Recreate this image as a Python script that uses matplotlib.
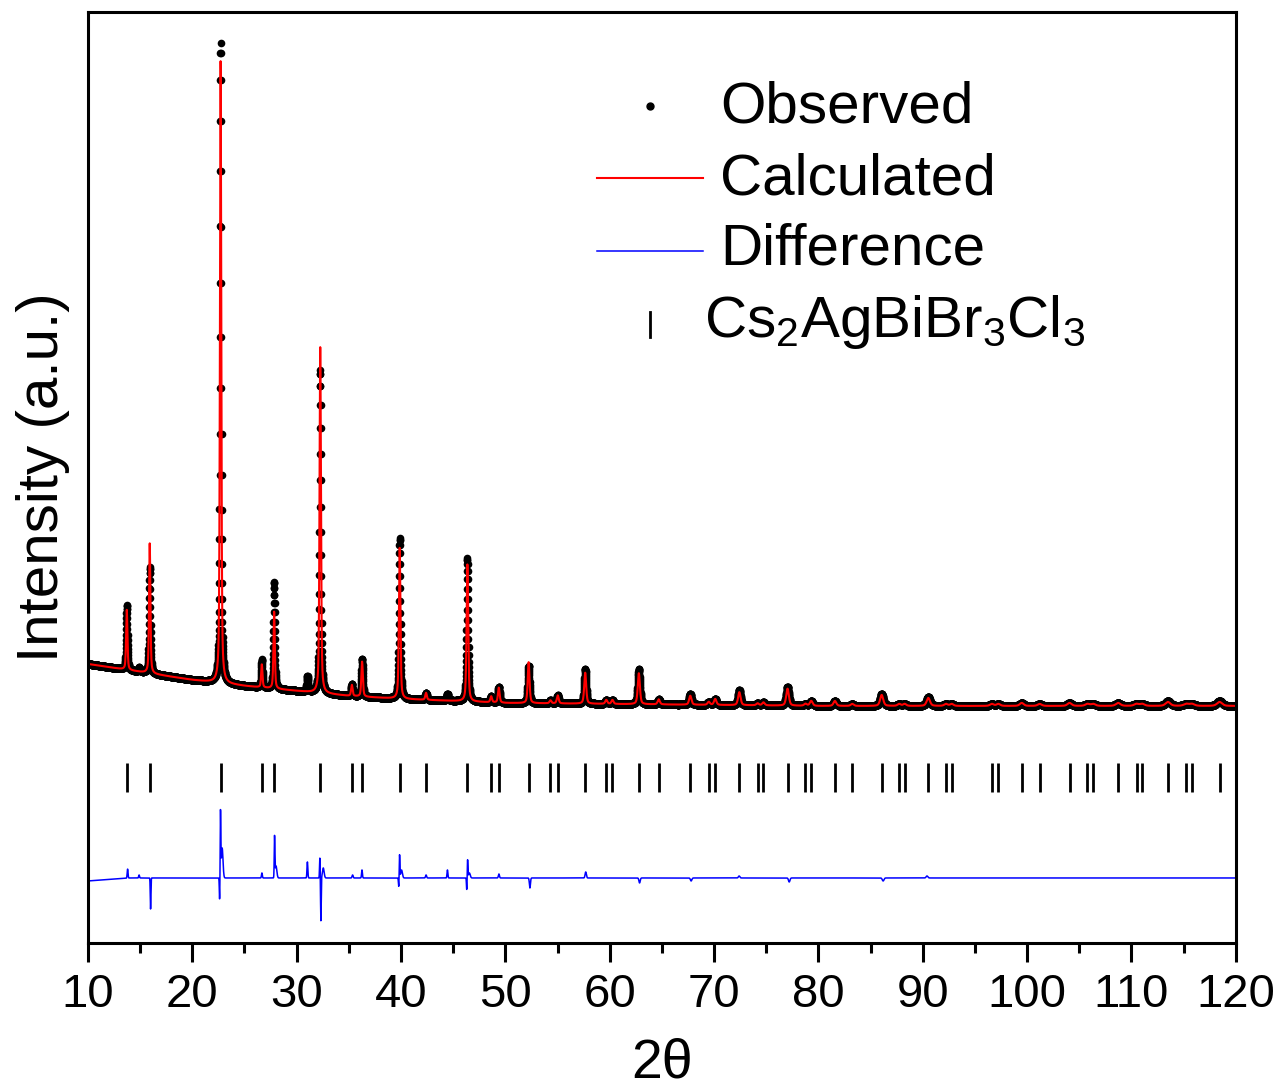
import numpy as np
import matplotlib
matplotlib.use("Agg")
import matplotlib.pyplot as plt

plt.rcParams['font.family'] = ['Liberation Sans', 'DejaVu Sans']
plt.rcParams['mathtext.fontset'] = 'custom'
plt.rcParams['mathtext.rm'] = 'Liberation Sans'
plt.rcParams['mathtext.it'] = 'Liberation Sans:italic'

# ---- data (intensity in arbitrary units) ----
# background of the pattern
bkg_x = [10, 15, 20, 25, 30, 35, 40, 45, 50, 60, 80, 100, 120]
bkg_y = [279, 271, 263, 257, 252, 247, 244, 242, 240, 239, 237, 237, 237]

# peaks: position (2theta), observed height, calculated height, fwhm
peak_pos = [13.72, 14.90, 15.92, 22.71, 26.66, 27.84, 31.03, 32.26, 35.29, 36.27,
            39.87, 42.40, 44.45, 46.36, 48.64, 49.37, 52.23, 54.32, 55.02, 57.65,
            59.67, 60.26, 62.79, 64.70, 67.72, 69.49, 70.11, 72.42, 74.17, 74.73,
            77.04, 78.76, 79.31, 81.58, 83.24, 86.06, 87.74, 88.26, 90.53, 92.22,
            92.77, 96.62, 97.24, 99.48, 101.20, 104.06, 105.78, 106.33, 108.72, 110.48,
            111.03, 113.49, 115.25, 115.80, 118.44]
obs_h = [65, 4, 106, 640, 28, 107, 15, 323, 12, 38,
         161, 7, 7, 143, 6, 16, 37, 3, 8, 35,
         4, 4, 35, 5, 11, 3, 6, 15, 2, 3,
         19, 2, 5, 5, 2, 12, 2, 2, 9, 2,
         2, 2, 2, 3, 2, 3, 2, 2, 3, 2,
         2, 5, 2, 2, 5]
calc_h = [60, 0, 130, 622, 23, 77, 0, 346, 11, 35,
          151, 7, 0, 137, 6, 15, 41, 3, 8, 31,
          4, 4, 31, 5, 9, 3, 6, 13, 2, 3,
          17, 2, 5, 5, 2, 11, 2, 2, 8, 2,
          2, 2, 2, 3, 2, 3, 2, 2, 3, 2,
          2, 4, 2, 2, 4]
fwhm = [0.15, 0.15, 0.15, 0.15, 0.15, 0.15, 0.16, 0.16, 0.17, 0.17,
        0.17, 0.18, 0.18, 0.18, 0.19, 0.19, 0.2, 0.21, 0.21, 0.22,
        0.23, 0.23, 0.24, 0.25, 0.26, 0.27, 0.27, 0.28, 0.29, 0.29,
        0.3, 0.31, 0.31, 0.32, 0.33, 0.35, 0.36, 0.36, 0.38, 0.39,
        0.39, 0.42, 0.42, 0.44, 0.45, 0.47, 0.48, 0.49, 0.51, 0.52,
        0.52, 0.54, 0.56, 0.56, 0.58]

# difference curve: baseline and misfit features
diff_base_x = [10, 14, 120]
diff_base_y = [62, 65, 65]
diff_pos = [13.80, 14.90, 16.00, 22.62, 22.70, 22.86, 26.67, 27.88, 28.02, 31.03,
            32.22, 32.32, 32.55, 35.36, 36.26, 39.78, 39.86, 40.05, 42.40, 44.45,
            46.30, 46.38, 46.55, 49.38, 52.35, 57.70, 62.86, 67.80, 72.40, 77.20,
            86.20, 90.40]
diff_amp = [9, 3, -31, -23, 65, 30, 5, 40, 12, 16,
            20, -43, 10, 3, 8, -9, 23, 8, 3, 8,
            -12, 18, 5, 4, -10, 6, -5, -3, 2, -4,
            -3, 2]
diff_w = [0.04, 0.04, 0.03, 0.03, 0.03, 0.08, 0.04, 0.03, 0.08, 0.04,
          0.03, 0.03, 0.08, 0.05, 0.04, 0.03, 0.03, 0.08, 0.05, 0.04,
          0.03, 0.03, 0.08, 0.05, 0.05, 0.06, 0.06, 0.07, 0.07, 0.07,
          0.08, 0.08]

# Bragg reflection positions
bragg = [13.72, 15.92, 22.71, 26.66, 27.84, 32.24, 35.29, 36.27, 39.87, 42.40,
         46.36, 48.64, 49.37, 52.23, 54.32, 55.02, 57.65, 59.67, 60.26, 62.79,
         64.70, 67.72, 69.49, 70.11, 72.42, 74.17, 74.73, 77.04, 78.76, 79.31,
         81.58, 83.24, 86.06, 87.74, 88.26, 90.53, 92.22, 92.77, 96.62, 97.24,
         99.48, 101.20, 104.06, 105.78, 106.33, 108.72, 110.48, 111.03, 113.49, 115.25,
         115.80, 118.44]


def pvoigt(x, x0, h, w, eta=0.5):
    d = (x - x0) / w
    return h * (eta / (1 + 4 * d**2) + (1 - eta) * np.exp(-4 * np.log(2) * d**2))


tt = np.arange(10, 120.0001, 0.01)
bkg = np.interp(tt, bkg_x, bkg_y)
y_obs = bkg.copy()
y_calc = bkg.copy()
for p, ho, hc, w in zip(peak_pos, obs_h, calc_h, fwhm):
    y_obs += pvoigt(tt, p, ho, w)
    y_calc += pvoigt(tt, p, hc, w)

y_diff = np.interp(tt, diff_base_x, diff_base_y)
for p, a, w in zip(diff_pos, diff_amp, diff_w):
    y_diff += a * np.exp(-0.5 * ((tt - p) / w) ** 2)

# ---- plot ----
fig = plt.figure(figsize=(12.84, 10.88), dpi=100)
ax = fig.add_axes([0.0685, 0.1333, 0.894, 0.8557])

ax.plot(tt, y_obs, 'o', color='black', markersize=5.5, markeredgewidth=0)
ax.plot(tt, y_calc, '-', color='red', linewidth=1.5)
ax.plot(tt, y_diff, '-', color='blue', linewidth=1.1)
ax.vlines(bragg, 151, 180, color='black', linewidth=2)

ax.set_xlim(10, 120)
ax.set_ylim(0, 931)
ax.set_xticks(np.arange(10, 121, 10))
ax.set_xticks(np.arange(15, 120, 10), minor=True)
ax.set_yticks([])
for s in ax.spines.values():
    s.set_linewidth(2.2)
ax.tick_params(axis='x', which='major', length=13.5, width=2.2, labelsize=34, pad=8)
ax.tick_params(axis='x', which='minor', length=7, width=2.2)

ax.set_xlabel('2θ', fontsize=40, labelpad=15)
ax.set_ylabel('Intensity (a.u.)', fontsize=42, labelpad=13)

# legend drawn by hand
def fx(px):
    return (px - 88) / 1148


def fy(py):
    return (943 - py) / 931


tr = ax.transAxes
ax.plot([fx(650)], [fy(106)], 'o', color='black', markersize=5, transform=tr, clip_on=False)
ax.plot([fx(597), fx(703)], [fy(178)] * 2, color='red', linewidth=1.5, transform=tr)
ax.plot([fx(597), fx(703)], [fy(251)] * 2, color='blue', linewidth=1.1, transform=tr)
ax.plot([fx(650), fx(650)], [fy(312), fy(337)], color='black', linewidth=2, transform=tr)
ax.text(fx(720), fy(123), 'Observed', fontsize=42, transform=tr, va='baseline')
ax.text(fx(720), fy(195), 'Calculated', fontsize=42, transform=tr, va='baseline')
ax.text(fx(720), fy(265), 'Difference', fontsize=42, transform=tr, va='baseline')
ax.text(fx(704), fy(337), r'Cs$_2$AgBiBr$_3$Cl$_3$', fontsize=42, transform=tr, va='baseline')

fig.savefig('out.png', dpi=100)
